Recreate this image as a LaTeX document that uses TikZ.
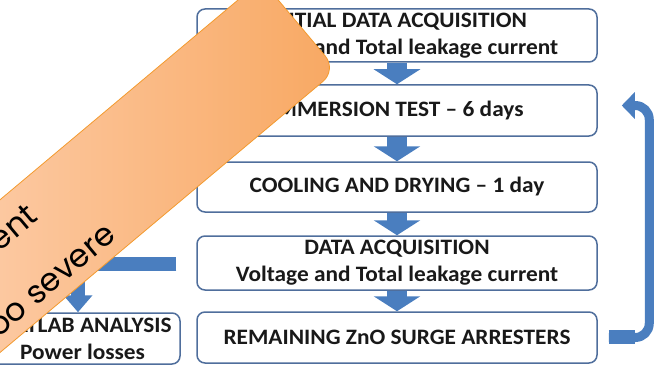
\documentclass[tikz,border=0pt]{standalone}
\usepackage{fontspec}
\setmainfont[FakeStretch=1.06]{Carlito}
\newfontfamily\bannerfont{Poppins}
\usetikzlibrary{arrows.meta,calc}

\definecolor{boxline}{HTML}{4F6E9C}
\definecolor{arrowblue}{HTML}{4A7EBF}
\definecolor{bannerlight}{HTML}{FCC8A0}
\definecolor{bannerdark}{HTML}{F8A862}
\definecolor{bannerline}{HTML}{F39A2E}

\begin{document}
\begin{tikzpicture}[x=1pt,y=-1pt,
  stage/.style={draw=boxline, line width=1.5pt, rounded corners=8pt, fill=white,
    minimum width=400pt, align=center, inner sep=0pt,
    font=\fontsize{22}{27}\selectfont\bfseries, text=black!90},
  blockarrow/.style={draw=arrowblue, line width=20pt,
    -{Triangle[width=46pt,length=15pt]}},
  thinarrow/.style={draw=arrowblue, line width=14pt,
    -{Triangle[width=28pt,length=17pt]}},
  bannertext/.style={rotate=40, anchor=base east, inner sep=0pt,
    font=\bannerfont\fontsize{32}{32}\selectfont, text=black}
]
\useasboundingbox (0,0) rectangle (656,369);
\clip (0,0) rectangle (656,369);

% process steps
\node[stage, minimum height=53pt] (b1) at (397,35.5)
  {INITIAL DATA ACQUISITION\\Voltage and Total leakage current};
\node[stage, minimum height=51pt] (b2) at (397,110.5) {IMMERSION TEST -- 6 days};
\node[stage, minimum height=50pt] (b3) at (397,187) {COOLING AND DRYING -- 1 day};
\node[stage, minimum height=54pt] (b4) at (397,263)
  {DATA ACQUISITION\\Voltage and Total leakage current};
\node[stage, minimum height=51pt] (b5) at (397,337.5) {REMAINING ZnO SURGE ARRESTERS};
\node[stage, minimum height=51pt, minimum width=195pt] (lab) at (82.5,338.5)
  {MATLAB ANALYSIS\\Power losses};

% downward flow
\draw[blockarrow] (b1.south) -- (b2.north);
\draw[blockarrow] (b2.south) -- (b3.north);
\draw[blockarrow] (b3.south) -- (b4.north);
\draw[blockarrow] (b4.south) -- (b5.north);

% branch to the lab analysis
\coordinate (elbow) at (78,264);
\draw[thinarrow] ($(b4.west)+(-20,1)$) -- (elbow) -- (elbow |- lab.north);

% loop back to the immersion test
\draw[draw=arrowblue, line width=9pt, rounded corners=14pt,
  -{Triangle[width=26pt,length=13pt]}]
  ($(b5.east)+(11,0)$) -| ($(b2.east)+(51.5,-5)$) -- ($(b2.east)+(24,-5)$);
\draw[draw=arrowblue, line width=14pt] ($(b5.east)+(11,-1)$) -- ($(b5.east)+(37,-1)$);

% diagonal note banner (tilted 40 degrees, far end beyond the frame)
\coordinate (bn1) at (261.6,-19.8);
\coordinate (bn2) at (336.8,69.8);
\coordinate (bn3) at (-138.2,468.5);
\coordinate (bn4) at (-213.4,378.9);
\begin{scope}
  \clip[rounded corners=18pt] (bn1) -- (bn2) -- (bn3) -- (bn4) -- cycle;
  \shade[left color=bannerlight, right color=bannerdark] (0,-20) rectangle (340,369);
\end{scope}
\draw[bannerline, line width=0.8pt, rounded corners=18pt]
  (bn1) -- (bn2) -- (bn3) -- (bn4) -- cycle;
\node[bannertext] (note1) at (39.8,218.5) {ent};
\node[bannertext] (note2) at (117.6,238.1) {oo severe};
\end{tikzpicture}
\end{document}
